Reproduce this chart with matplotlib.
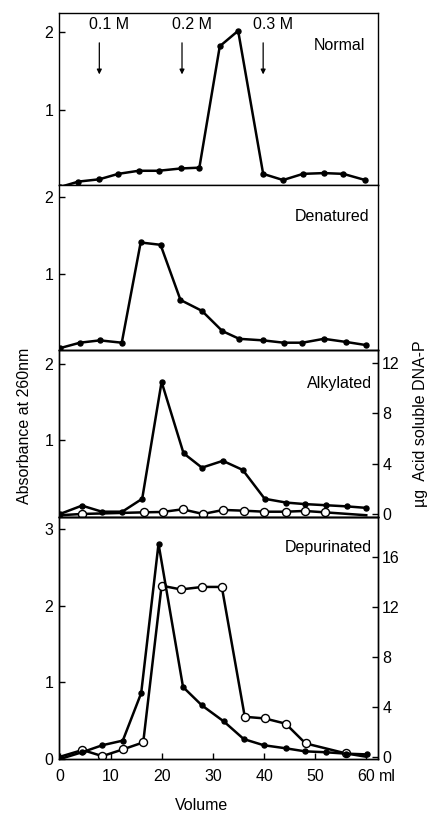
import matplotlib
matplotlib.use("Agg")
import matplotlib.pyplot as plt

plt.rcParams['font.family'] = ['Liberation Sans', 'DejaVu Sans']
FS = 11.5
plt.rcParams['font.size'] = FS

# ---------------- data ----------------
normal_x = [0, 3.6, 7.7, 11.4, 15.4, 19.3, 23.7, 27.3, 31.3, 34.9, 39.8, 43.7, 47.6, 51.7, 55.5, 59.8]
normal_y = [0.0, 0.07, 0.10, 0.17, 0.21, 0.21, 0.24, 0.25, 1.82, 2.02, 0.17, 0.09, 0.17, 0.18, 0.17, 0.09]

denat_x = [0, 3.9, 7.8, 12.1, 15.8, 19.7, 23.6, 27.8, 31.8, 35.1, 39.8, 43.8, 47.5, 51.7, 56.0, 59.9]
denat_y = [0.05, 0.12, 0.15, 0.12, 1.41, 1.38, 0.67, 0.53, 0.27, 0.17, 0.15, 0.12, 0.12, 0.17, 0.13, 0.09]

alk_x = [0, 4.3, 8.2, 12.2, 16.1, 19.9, 24.2, 27.8, 31.9, 35.8, 40.1, 44.3, 48.0, 52.1, 56.2, 60.0]
alk_y = [0.03, 0.14, 0.06, 0.06, 0.23, 1.77, 0.83, 0.64, 0.73, 0.61, 0.23, 0.18, 0.16, 0.145, 0.13, 0.11]
alk_dna_x = [0, 4.3, 16.4, 20.1, 24.0, 28.0, 32.0, 36.0, 40.0, 44.2, 47.9, 51.9, 60.0]
alk_dna_y = [-0.1, 0.0, 0.13, 0.16, 0.37, 0.0, 0.32, 0.26, 0.18, 0.18, 0.24, 0.13, -0.1]

dep_x = [0, 4.4, 8.3, 12.3, 15.9, 19.3, 24.1, 27.8, 32.1, 36.0, 39.9, 44.2, 48.0, 52.1, 56.0, 60.1]
dep_y = [0.0, 0.09, 0.18, 0.24, 0.86, 2.81, 0.94, 0.70, 0.49, 0.26, 0.18, 0.14, 0.10, 0.088, 0.07, 0.06]
dep_dna_x = [0, 4.4, 8.3, 12.4, 16.3, 19.9, 23.7, 27.9, 31.7, 36.2, 40.1, 44.2, 48.1, 56.0, 60.0]
dep_dna_y = [0.0, 0.54, 0.05, 0.6, 1.15, 13.7, 13.4, 13.6, 13.6, 3.2, 3.07, 2.65, 1.07, 0.27, 0.0]

x_ticks = [0, 10, 20, 30, 40, 50, 60]
panel_names = ["Normal", "Denatured", "Alkylated", "Depurinated"]
salt_labels = ["0.1 M", "0.2 M", "0.3 M"]
salt_x = [7.7, 23.9, 39.8]

# ---------------- layout ----------------
W, H = 428, 813
fig = plt.figure(figsize=(W / 100, H / 100), dpi=100)
L = 59 / W
Wd = 319 / W

def add(top_px, bot_px):
    return fig.add_axes([L, 1 - bot_px / H, Wd, (bot_px - top_px) / H])

ax1 = add(13, 185)
ax2 = add(185, 350)
ax3 = add(350, 517)
ax4 = add(517, 759)

lw = 1.8
fkw = dict(color='black', lw=lw, marker='o', ms=3.6, mfc='black', mec='black')
okw = dict(color='black', lw=lw, marker='o', ms=5.8, mfc='white', mec='black', mew=1.0)

for ax in (ax1, ax2, ax3, ax4):
    ax.set_xlim(-0.2, 62.3)
    for s in ax.spines.values():
        s.set_linewidth(1.0)
    ax.tick_params(direction='in', length=4, width=1.0, pad=4, labelsize=FS)

for ax in (ax1, ax2, ax3):
    ax.set_xticks([])

ax1.plot(normal_x, normal_y, **fkw)
ax1.set_ylim(0.026, 2.25)
ax1.set_yticks([1, 2])

ax2.plot(denat_x, denat_y, **fkw)
ax2.set_ylim(0.026, 2.15)
ax2.set_yticks([1, 2])

ax3r = ax3.twinx()
ax3r.set_xlim(-0.2, 62.3)
ax3r.plot(alk_dna_x, alk_dna_y, markevery=list(range(1, len(alk_dna_x) - 1)), **okw)
ax3.plot(alk_x, alk_y, **fkw)
ax3.set_zorder(ax3r.get_zorder() + 1)
ax3.patch.set_visible(False)
ax3.set_ylim(-0.01, 2.19)
ax3.set_yticks([1, 2])
ax3r.set_ylim(-0.24, 13.0)
ax3r.set_yticks([0, 4, 8, 12])

ax4r = ax4.twinx()
ax4r.set_xlim(-0.2, 62.3)
ax4r.plot(dep_dna_x, dep_dna_y, markevery=list(range(1, len(dep_dna_x) - 1)), **okw)
ax4.plot(dep_x, dep_y, **fkw)
ax4.set_zorder(ax4r.get_zorder() + 1)
ax4.patch.set_visible(False)
ax4.set_ylim(0, 3.16)
ax4.set_yticks([0, 1, 2, 3])
ax4r.set_ylim(-0.18, 19.2)
ax4r.set_yticks([0, 4, 8, 12, 16])
ax4.set_xticks(x_ticks)
ax4.set_xticklabels([str(t) for t in x_ticks])
ax4.tick_params(axis='x', pad=7.5)

for axr in (ax3r, ax4r):
    for s in axr.spines.values():
        s.set_linewidth(1.0)
    axr.tick_params(direction='in', length=4, width=1.0, pad=3, labelsize=FS)

# "ml" unit after the 60 tick label, on the same line
ax4.text(64.2, -10.4 / 242, "ml", transform=ax4.get_xaxis_transform(), ha='center', va='top',
         fontsize=FS, clip_on=False)

# panel labels
ax1.text(0.96, 0.81, panel_names[0], transform=ax1.transAxes, ha='right', va='center', fontsize=FS)
ax2.text(0.972, 0.81, panel_names[1], transform=ax2.transAxes, ha='right', va='center', fontsize=FS)
ax3.text(0.98, 0.80, panel_names[2], transform=ax3.transAxes, ha='right', va='center', fontsize=FS)
ax4.text(0.98, 0.875, panel_names[3], transform=ax4.transAxes, ha='right', va='center', fontsize=FS)

# salt step arrows
for sx, lab in zip(salt_x, salt_labels):
    ax1.annotate("", xy=(sx, 1.42), xytext=(sx, 1.90),
                 arrowprops=dict(arrowstyle='-|>', color='black', lw=0.9, mutation_scale=7))
    ax1.text(sx + 1.9, 2.10, lab, ha='center', va='center', fontsize=FS)

fig.text(25 / W, 1 - 426 / H, "Absorbance at 260nm", rotation=90, ha='center', va='center', fontsize=FS)
fig.text(421 / W, 1 - 424 / H, "µg  Acid soluble DNA-P", rotation=90, ha='center', va='center', fontsize=FS)
fig.text(202 / W, 1 - 805 / H, "Volume", ha='center', va='center', fontsize=FS)

fig.savefig("out.png", dpi=100)
